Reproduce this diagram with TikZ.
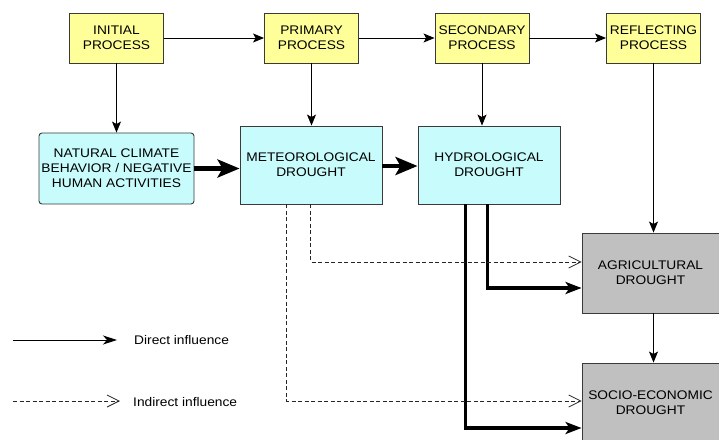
\documentclass[tikz,border=0pt]{standalone}
\usepackage{fontspec}
\setmainfont{Liberation Sans}[FakeStretch=1.1]
\usetikzlibrary{arrows.meta,calc}
\definecolor{procyellow}{HTML}{FFFF99}
\definecolor{droughtcyan}{HTML}{C8FBFB}
\definecolor{impactgrey}{HTML}{C0C0C0}
\definecolor{borderdark}{HTML}{3A3A3A}
\begin{document}
\begin{tikzpicture}[x=1pt,y=-1pt,
  box/.style={draw=borderdark, line width=0.9pt, align=center, inner sep=0pt,
              font=\fontsize{12.5}{15}\selectfont},
  proc/.style={box, fill=procyellow, minimum width=94pt, minimum height=50pt},
  dry/.style={box, fill=droughtcyan, minimum width=142pt, minimum height=78pt},
  impact/.style={box, fill=impactgrey, minimum width=137pt, minimum height=80pt},
  thin/.style={draw=black, line width=0.9pt, -{Stealth[length=11pt,width=9pt,inset=2.5pt]}},
  heavy/.style={draw=black, line width=4.5pt, -{Stealth[length=22pt,width=18pt,inset=5pt]}},
  heavyline/.style={draw=black, line width=3.5pt, -{Stealth[length=16pt,width=12pt,inset=4pt]}},
  indirect/.style={draw=black!85, line width=0.8pt, dash pattern=on 4pt off 2.5pt,
                   -{Straight Barb[length=12pt,width=12pt]}},
  legendtext/.style={anchor=west, inner sep=0pt, font=\fontsize{12.5}{15}\selectfont}
]
\useasboundingbox (0,0) rectangle (719,439);

% process row
\node[proc] (init) at (116.5,38) {INITIAL\\PROCESS};
\node[proc] (prim) at (311.5,38) {PRIMARY\\PROCESS};
\node[proc] (sec)  at (482,38)   {SECONDARY\\PROCESS};
\node[proc] (refl) at (653.5,38) {REFLECTING\\PROCESS};

% drought row
\node[box, fill=droughtcyan, rounded corners=3pt, minimum width=155pt, minimum height=71pt]
  (nat) at (116.5,168.5) {NATURAL CLIMATE\\BEHAVIOR / NEGATIVE\\HUMAN ACTIVITIES};
\node[dry] (met) at (311,165) {METEOROLOGICAL\\DROUGHT};
\node[dry] (hyd) at (489,165) {HYDROLOGICAL\\DROUGHT};

% impacts
\node[impact] (agr) at (650.5,273) {AGRICULTURAL\\DROUGHT};
\node[impact] (soc) at (650.5,403) {SOCIO-ECONOMIC\\DROUGHT};

% process arrows
\draw[thin] (init) -- (prim);
\draw[thin] (prim) -- (sec);
\draw[thin] (sec) -- (refl);
\draw[thin] (init.south) -- (nat.north);
\draw[thin] (prim.south) -- (met.north -| prim.south);
\draw[thin] (sec.south) -- (hyd.north -| sec.south);
\draw[thin] (refl.south) -- (agr.north -| refl.south);
\draw[thin] (agr.south -| refl.south) -- (soc.north -| refl.south);

% heavy arrows
\draw[heavy] (nat.east) -- (met.west |- nat.east);
\draw[heavy] ($(met.east)+(0,1)$) -- ($(hyd.west)+(0,1)$);
\draw[heavyline] ($(hyd.south west)+(48,0)$) |- ($(soc.west)+(0,25)$);
\draw[heavyline] ($(hyd.south west)+(70,0)$) |- ($(agr.west)+(0,15)$);

% indirect arrows
\draw[indirect] ($(met.south west)+(47,0)$) |- ($(soc.west)+(0,-2)$);
\draw[indirect] ($(met.south west)+(71,0)$) |- ($(agr.west)+(0,-11)$);

% legend
\coordinate (ds) at (13,340);
\coordinate (de) at (117,340);
\coordinate (is) at (13,401);
\coordinate (ie) at (120,401);
\draw[thin, -{Stealth[length=14pt,width=9pt,inset=4pt]}] (ds) -- (de);
\node[legendtext] (dt) at (134,340.5) {Direct influence};
\draw[indirect] (is) -- (ie);
\node[legendtext] (it) at (133,402) {Indirect influence};
\end{tikzpicture}
\end{document}
